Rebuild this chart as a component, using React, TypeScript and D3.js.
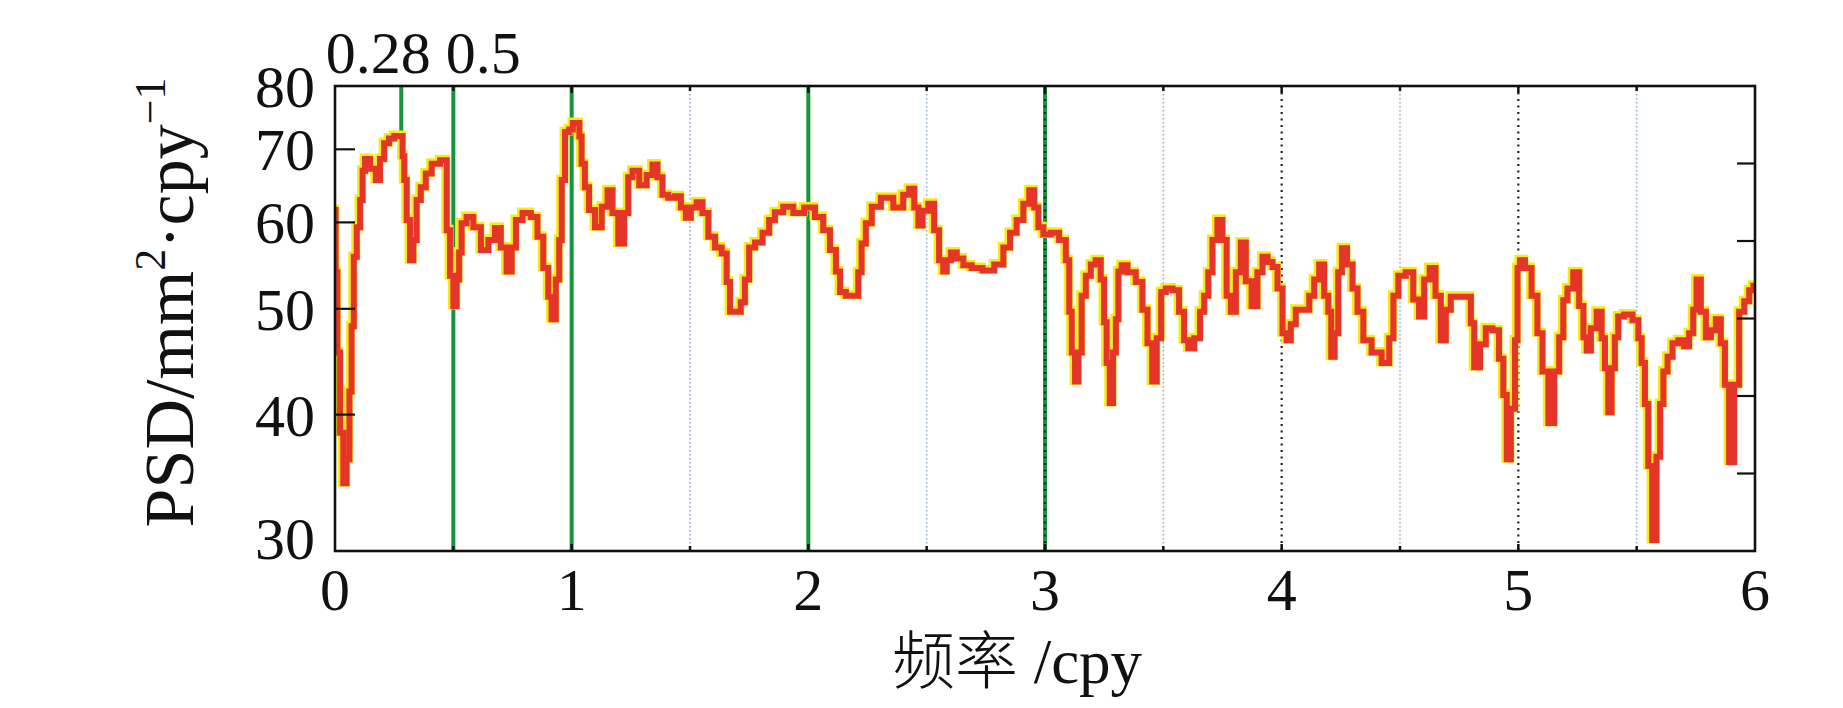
import React from "react";
import * as d3 from "d3";

// frequency (cpy) and PSD values
const freq: number[] = [
  0.000, 0.005, 0.015, 0.028, 0.042, 0.056, 0.066, 0.074, 0.085, 0.099, 0.113, 0.120, 0.134, 0.162, 0.183, 0.197, 0.218, 0.239, 0.262, 0.282,
  0.289, 0.296, 0.310, 0.324, 0.338, 0.352, 0.373, 0.394, 0.423, 0.465, 0.479, 0.493, 0.507, 0.521, 0.528, 0.542, 0.570, 0.599, 0.634, 0.662,
  0.690, 0.711, 0.739, 0.754, 0.775, 0.810, 0.845, 0.866, 0.894, 0.908, 0.922, 0.944, 0.951, 0.965, 0.979,
  1.000, 1.010, 1.030, 1.035, 1.049, 1.063, 1.084, 1.113, 1.141, 1.162, 1.183, 1.211, 1.232, 1.246, 1.268, 1.303, 1.331, 1.352, 1.373, 1.394,
  1.422, 1.451, 1.472, 1.493, 1.514, 1.542, 1.563, 1.592, 1.620, 1.648, 1.662, 1.676, 1.704, 1.725, 1.739, 1.761, 1.789, 1.824, 1.845, 1.873,
  1.915, 1.958,
  2.007, 2.049, 2.077, 2.106, 2.127, 2.141, 2.176, 2.204, 2.218, 2.232, 2.254, 2.282, 2.331, 2.387, 2.415, 2.437, 2.458, 2.472, 2.493, 2.521,
  2.542, 2.563, 2.577, 2.592, 2.613, 2.641, 2.669, 2.711, 2.761, 2.810, 2.838, 2.866, 2.894, 2.923, 2.944, 2.965, 2.979,
  3.007, 3.042, 3.077, 3.099, 3.106, 3.120, 3.134, 3.148, 3.162, 3.183, 3.204, 3.225, 3.246, 3.253, 3.268, 3.279, 3.296, 3.303, 3.317, 3.331,
  3.366, 3.401, 3.422, 3.444, 3.462, 3.482, 3.500, 3.521, 3.556, 3.577, 3.598, 3.613, 3.648, 3.662, 3.683, 3.697, 3.718, 3.739, 3.760, 3.775,
  3.796, 3.817, 3.838, 3.859, 3.887, 3.908, 3.930, 3.951, 3.972, 3.993,
  4.014, 4.028, 4.049, 4.070, 4.106, 4.127, 4.148, 4.169, 4.190, 4.204, 4.215, 4.232, 4.246, 4.263, 4.289, 4.310, 4.331, 4.359, 4.401, 4.444,
  4.465, 4.479, 4.507, 4.542, 4.570, 4.591, 4.613, 4.638, 4.662, 4.683, 4.704, 4.725, 4.796, 4.803, 4.824, 4.852, 4.873, 4.908, 4.929, 4.944,
  4.958, 4.979, 4.993,
  5.000, 5.014, 5.042, 5.070, 5.091, 5.113, 5.141, 5.162, 5.183, 5.197, 5.218, 5.246, 5.268, 5.282, 5.296, 5.317, 5.345, 5.359, 5.373, 5.387,
  5.401, 5.415, 5.429, 5.465, 5.500, 5.514, 5.528, 5.542, 5.556, 5.575, 5.592, 5.606, 5.620, 5.641, 5.662, 5.690, 5.711, 5.732, 5.746, 5.760,
  5.782, 5.803, 5.824, 5.845, 5.866, 5.880, 5.901, 5.922, 5.944, 5.965, 5.986, 6.000,
];

const psd: number[] = [
  61.6, 54.0, 45.6, 38.5, 34.6, 36.4, 42.0, 48.2, 55.8, 59.4, 62.9, 66.9, 68.6, 67.2, 65.6, 68.6, 70.9, 71.6, 72.0, 72.0,
  69.0, 65.6, 60.3, 55.4, 57.8, 62.9, 64.6, 66.5, 67.9, 68.4, 59.0, 53.6, 50.3, 53.2, 56.3, 59.9, 60.7, 59.4, 56.6, 57.8,
  59.3, 56.9, 54.1, 56.9, 60.3, 61.2, 60.7, 58.2, 54.5, 51.3, 48.9, 53.2, 57.8, 65.6, 72.6,
  73.0, 74.0, 74.0, 71.9, 67.9, 64.6, 61.6, 59.4, 62.0, 64.2, 61.2, 57.4, 61.2, 66.0, 66.9, 64.9, 66.3, 67.8, 66.0, 63.6,
  63.2, 63.4, 61.9, 60.6, 61.9, 62.6, 61.2, 58.2, 56.9, 56.2, 52.9, 49.7, 49.7, 50.7, 53.2, 56.9, 57.5, 58.7, 60.3, 61.3,
  62.0, 61.2,
  61.9, 60.7, 59.0, 56.6, 54.1, 51.8, 51.4, 51.4, 54.0, 57.4, 59.9, 62.0, 63.2, 61.9, 63.6, 64.4, 61.9, 59.6, 61.5, 62.4,
  59.0, 55.4, 54.1, 55.4, 56.3, 55.6, 54.8, 54.5, 54.2, 54.9, 56.9, 58.7, 60.3, 62.4, 64.2, 61.9, 59.4,
  58.5, 58.7, 57.8, 55.4, 49.7, 45.6, 42.9, 45.6, 51.4, 53.6, 54.9, 55.4, 53.2, 48.6, 44.6, 41.0, 45.6, 48.9, 54.1, 54.8,
  54.0, 52.9, 49.9, 46.5, 42.9, 47.0, 51.8, 52.2, 52.0, 49.7, 46.8, 46.0, 47.0, 49.7, 51.4, 54.0, 57.8, 60.3, 57.8, 51.4,
  49.7, 54.0, 57.5, 53.0, 50.3, 54.0, 55.8, 55.2, 54.6, 52.2,
  47.5, 46.8, 48.4, 49.9, 49.9, 51.4, 53.2, 54.9, 51.4, 49.7, 45.2, 47.5, 54.0, 56.8, 54.9, 52.2, 49.7, 46.8, 45.6, 44.6,
  47.0, 51.4, 53.6, 54.0, 51.0, 49.2, 53.2, 54.5, 51.4, 46.8, 49.9, 51.3, 51.3, 48.5, 44.2, 46.4, 48.0, 47.8, 45.0, 41.7,
  36.4, 40.5, 46.8,
  54.5, 55.4, 54.5, 51.4, 47.5, 43.8, 39.3, 43.8, 47.1, 50.9, 52.2, 54.0, 50.3, 47.1, 45.8, 48.0, 49.7, 47.0, 44.1, 40.2,
  44.1, 47.1, 49.2, 49.4, 48.8, 47.0, 44.6, 40.9, 35.9, 30.7, 36.6, 40.9, 43.8, 45.2, 46.5, 46.8, 46.2, 47.5, 49.9, 53.2,
  49.7, 47.1, 47.8, 48.9, 46.5, 42.6, 36.2, 42.6, 49.7, 50.8, 52.0, 52.5,
];

const xTickLabels: number[] = [0, 1, 2, 3, 4, 5, 6];
const xMinorTicks: number[] = [0.5, 1, 1.5, 2, 2.5, 3, 3.5, 4, 4.5, 5, 5.5];
const yTickValues: number[] = [30, 40, 50, 60, 70, 80];
const rightTicks: number[] = [1, 2, 3, 4, 5];
const greenLines: number[] = [0.5, 1, 2, 3];
const markerFreq = 0.28;
const topLabels: { text: string; f: number; dx: number }[] = [
  { text: "0.28", f: 0.28, dx: -23 },
  { text: "0.5", f: 0.5, dx: 30 },
];
const lightGrid: number[] = [1.5, 2.5, 3.5, 4.5, 5.5];
const darkGrid: number[] = [3, 4, 5];

const W = 1843;
const H = 708;
const left = 335, right = 1755, top = 86, bottom = 551;

export default function App() {
  const x = d3.scaleLinear().domain([0, 6]).range([left, right]);
  const y = d3.scaleLog().domain([30, 80]).range([bottom, top]);
  const yR = d3.scaleLinear().domain([0, 6]).range([bottom, top]);

  const data = freq.map((f, i) => [f, psd[i]] as [number, number]);
  const line = d3
    .line<[number, number]>()
    .x((d) => x(d[0]))
    .y((d) => y(d[1]))
    .curve(d3.curveStep);
  const path = line(data) || "";

  const idx = d3.bisector((d: [number, number]) => d[0]).left(data, markerFreq);
  const markerVal = data[Math.min(idx, data.length - 1)][1];

  const serif = "'Liberation Serif', 'Times New Roman', serif";
  const green = "#16963c";

  return (
    <svg
      width={W}
      height={H}
      style={{ position: "absolute", left: 0, top: 0, background: "#fff" }}
      fontFamily={serif}
    >
      <defs>
        <clipPath id="plotclip">
          <rect x={left} y={top} width={right - left} height={bottom - top} />
        </clipPath>
      </defs>

      {/* light dotted grid */}
      {lightGrid.map((f) => (
        <line key={"lg" + f} x1={x(f)} x2={x(f)} y1={top} y2={bottom}
          stroke="#8fa7bf" strokeWidth={1.5} strokeDasharray="1.5 2.5" />
      ))}

      {/* green reference lines */}
      {greenLines.map((f) => (
        <line key={"g" + f} x1={x(f)} x2={x(f)} y1={top} y2={bottom}
          stroke={green} strokeWidth={4} />
      ))}
      <line x1={x(markerFreq)} x2={x(markerFreq)} y1={top} y2={y(markerVal)}
        stroke={green} strokeWidth={4} />

      {/* dark dotted grid */}
      {darkGrid.map((f) => (
        <line key={"dg" + f} x1={x(f)} x2={x(f)} y1={top} y2={bottom}
          stroke="#222" strokeWidth={2.2} strokeDasharray="2 4.5" />
      ))}

      {/* PSD curve */}
      <g clipPath="url(#plotclip)">
        <path d={path} fill="none" stroke="#f7ea1a" strokeWidth={9}
          strokeLinejoin="miter" transform="translate(-1,-1)" />
        <path d={path} fill="none" stroke="#e5342a" strokeWidth={6}
          strokeLinejoin="miter" />
      </g>

      {/* frame */}
      <rect x={left} y={top} width={right - left} height={bottom - top}
        fill="none" stroke="#111" strokeWidth={2.6} />

      {/* x ticks top & bottom */}
      {xMinorTicks.map((f) => (
        <g key={"xt" + f}>
          <line x1={x(f)} x2={x(f)} y1={bottom} y2={bottom - (Number.isInteger(f) ? 7 : 5)}
            stroke="#111" strokeWidth={2.5} />
          <line x1={x(f)} x2={x(f)} y1={top} y2={top + (Number.isInteger(f) ? 7 : 5)}
            stroke="#111" strokeWidth={2.5} />
        </g>
      ))}

      {/* left y ticks */}
      {yTickValues.slice(1, -1).map((v) => (
        <line key={"yt" + v} x1={left} x2={left + 20} y1={y(v)} y2={y(v)}
          stroke="#111" strokeWidth={2.2} />
      ))}
      {/* right ticks */}
      {rightTicks.map((v) => (
        <line key={"rt" + v} x1={right} x2={right - 18} y1={yR(v)} y2={yR(v)}
          stroke="#111" strokeWidth={2.2} />
      ))}

      {/* x tick labels */}
      {xTickLabels.map((f) => (
        <text key={"xl" + f} x={x(f)} y={bottom + 59} textAnchor="middle"
          fontSize={60} fill="#111">{f}</text>
      ))}

      {/* y tick labels */}
      {yTickValues.map((v) => (
        <text key={"yl" + v} x={left - 20} y={y(v) + (v === 30 ? -13 : 0)} dy="0.35em"
          textAnchor="end" fontSize={60} fill="#111">{v}</text>
      ))}

      {/* top labels */}
      {topLabels.map((t) => (
        <text key={t.text} x={x(t.f) + t.dx} y={top - 13} textAnchor="middle"
          fontSize={60} fill="#111">{t.text}</text>
      ))}

      {/* axis titles */}
      <text x={(left + right) / 2 - 28} y={683} textAnchor="middle" fontSize={63} fill="#111">
        <tspan fontFamily="'Noto Sans CJK SC', sans-serif" fontWeight={300}>频率</tspan>
        <tspan> /cpy</tspan>
      </text>

      <text transform={`translate(193, ${(top + bottom) / 2 - 16}) rotate(-90)`}
        textAnchor="middle" fontSize={70} fill="#111">
        <tspan>PSD/mm</tspan>
        <tspan dy={-28} fontSize={44}>2</tspan>
        <tspan dy={28}>·cpy</tspan>
        <tspan dy={-28} fontSize={44}>−1</tspan>
      </text>
    </svg>
  );
}
